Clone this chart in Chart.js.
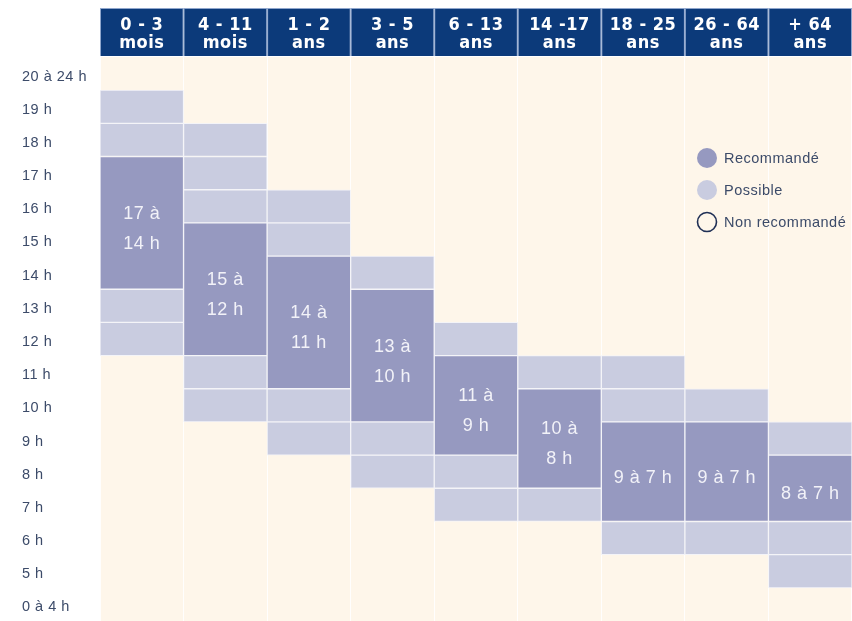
<!DOCTYPE html>
<html>
<head>
<meta charset="utf-8">
<script src="https://cdn.jsdelivr.net/npm/chart.js@4.4.1/dist/chart.umd.min.js"></script>
<style>
  body { margin: 0; background: #ffffff; }
  #wrap { width: 852px; height: 621px; position: relative; }
</style>
</head>
<body>
<div id="wrap"><canvas id="sleep"></canvas></div>
<script>
// age groups (header), hour rows (left axis)
const ageGroups = [['0 - 3','mois'], ['4 - 11','mois'], ['1 - 2','ans'], ['3 - 5','ans'], ['6 - 13','ans'],
                   ['14 -17','ans'], ['18 - 25','ans'], ['26 - 64','ans'], ['+ 64','ans']];
const hourLabels = ['0 à 4 h','5 h','6 h','7 h','8 h','9 h','10 h','11 h','12 h','13 h','14 h',
                    '15 h','16 h','17 h','18 h','19 h','20 à 24 h'];

// recommended range per age group (hours)
const recoFrom = [17, 15, 14, 13, 11, 10, 9, 9, 8];
const recoTo   = [14, 12, 11, 10,  9,  8, 7, 7, 7];
const recoText = [['17 à','14 h'], ['15 à','12 h'], ['14 à','11 h'], ['13 à','10 h'], ['11 à','9 h'],
                  ['10 à','8 h'], ['9 à 7 h'], ['9 à 7 h'], ['8 à 7 h']];

// "possible" hours per age group
const possibleHours = [[19,18,13,12], [18,17,16,11,10], [16,15,10,9], [14,9,8], [12,8,7],
                       [11,7], [11,10,6], [10,6], [9,6,5]];

const NAVY = '#0c3a7a';
const DARK = '#9699c0';
const LIGHT = '#c9cce0';
const CREAM = '#fef6ea';
const TEXT = '#3c4b69';
const FONT = "'Liberation Sans', Arial, sans-serif";
const HEAD_FONT = "'Liberation Sans Narrow', 'DejaVu Sans Condensed', sans-serif";

// row 0 is "0 à 4 h", row 1 is "5 h" ...
function rowOf(h) { return h - 4; }

const cellStyle = {
    borderColor: '#f4f4f8',
    borderWidth: 1,
    borderSkipped: false,
    grouped: false,
    barPercentage: 1,
    categoryPercentage: 1
};

const datasets = [{
    label: 'Recommandé',
    data: recoFrom.map((from, i) => [rowOf(recoTo[i]), rowOf(from) + 1]),
    backgroundColor: DARK,
    ...cellStyle
}];

const maxSlots = Math.max(...possibleHours.map(p => p.length));
for (let k = 0; k < maxSlots; k++) {
    datasets.push({
        label: 'Possible',
        data: possibleHours.map(p => p[k] != null ? [rowOf(p[k]), rowOf(p[k]) + 1] : null),
        backgroundColor: LIGHT,
        ...cellStyle
    });
}

const backdrop = {
    id: 'backdrop',
    beforeDraw(chart) {
        const { ctx, chartArea } = chart;
        const x = chart.scales.x;
        const colW = x.width / ageGroups.length;
        ctx.save();
        ctx.fillStyle = CREAM;
        ctx.fillRect(chartArea.left, chartArea.top, chartArea.right - chartArea.left, chartArea.bottom - chartArea.top);
        // header boxes
        ageGroups.forEach((g, i) => {
            const cx = x.getPixelForValue(i);
            ctx.fillStyle = '#8fa6cc';
            ctx.fillRect(cx - colW / 2, x.top, colW, x.bottom - x.top - 1);
            ctx.fillStyle = NAVY;
            ctx.fillRect(cx - colW / 2 + 1, x.top + 1, colW - 2, x.bottom - x.top - 2);
        });
        ctx.restore();
        ctx.letterSpacing = '0.5px';
    }
};

const cellLabels = {
    id: 'cellLabels',
    afterDatasetsDraw(chart) {
        const { ctx } = chart;
        const meta = chart.getDatasetMeta(0);
        ctx.save();
        ctx.fillStyle = '#f2f2f8';
        ctx.font = '18px ' + FONT;
        ctx.textAlign = 'center';
        ctx.textBaseline = 'middle';
        meta.data.forEach((bar, i) => {
            const lines = recoText[i];
            const cy = (bar.y + bar.base) / 2 + 6;
            const lh = 30;
            lines.forEach((t, j) => {
                ctx.fillText(t, bar.x, cy + (j - (lines.length - 1) / 2) * lh);
            });
        });
        ctx.restore();
    }
};

const keyBox = {
    id: 'keyBox',
    afterDraw(chart) {
        const { ctx, chartArea } = chart;
        const items = [
            { text: 'Recommandé', fill: DARK },
            { text: 'Possible', fill: LIGHT },
            { text: 'Non recommandé', fill: null }
        ];
        const x0 = chartArea.right - 145;
        const y0 = chartArea.top + 101;
        ctx.save();
        ctx.font = '14.5px ' + FONT;
        ctx.textBaseline = 'middle';
        ctx.textAlign = 'left';
        items.forEach((it, i) => {
            const y = y0 + i * 32;
            ctx.beginPath();
            ctx.arc(x0, y, it.fill ? 10 : 9.5, 0, Math.PI * 2);
            if (it.fill) {
                ctx.fillStyle = it.fill;
                ctx.fill();
            } else {
                ctx.lineWidth = 1.6;
                ctx.strokeStyle = '#1f2f55';
                ctx.stroke();
            }
            ctx.fillStyle = TEXT;
            ctx.fillText(it.text, x0 + 17, y + 1);
        });
        ctx.restore();
    }
};

new Chart(document.getElementById('sleep'), {
    type: 'bar',
    data: { labels: ageGroups, datasets: datasets },
    options: {
        responsive: true,
        maintainAspectRatio: false,
        animation: false,
        events: [],
        layout: { padding: { top: 8, left: 22, right: 0, bottom: 0 } },
        plugins: {
            legend: { display: false },
            tooltip: { enabled: false }
        },
        scales: {
            x: {
                position: 'top',
                afterFit(scale) { scale.height = 49; },
                border: { display: false },
                grid: { color: 'rgba(255,255,255,0.9)', lineWidth: 1, drawTicks: false, offset: true },
                ticks: {
                    color: '#ffffff',
                    font: { family: HEAD_FONT, size: 18, weight: 'bold', lineHeight: 1.0 },
                    padding: 5,
                    maxRotation: 0,
                    autoSkip: false
                }
            },
            y: {
                type: 'linear',
                min: 0,
                max: hourLabels.length,
                afterFit(scale) {
                    scale.width = 78;
                    scale.paddingTop = 0;
                    scale.paddingBottom = 0;
                },
                afterBuildTicks(scale) {
                    scale.ticks = hourLabels.map((l, i) => ({ value: i + 0.5 }));
                },
                border: { display: false },
                grid: { display: false },
                ticks: {
                    autoSkip: false,
                    crossAlign: 'far',
                    labelOffset: 3,
                    color: TEXT,
                    font: { family: FONT, size: 14.5 },
                    callback: (v) => hourLabels[Math.floor(v)]
                }
            }
        }
    },
    plugins: [backdrop, cellLabels, keyBox]
});
</script>
</body>
</html>
